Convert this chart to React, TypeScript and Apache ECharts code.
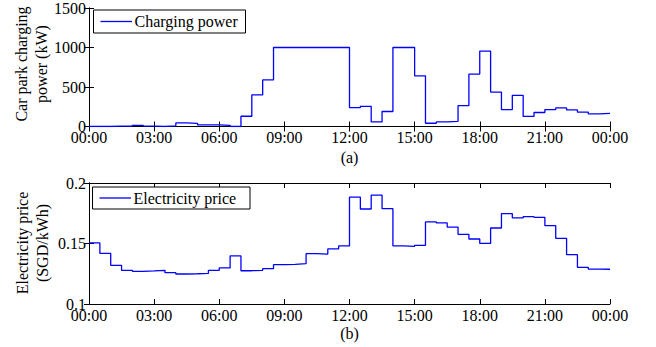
import React, { useEffect, useRef } from "react";
import * as echarts from "echarts";

const powerValues = [
  0, 0, 5, 5, 15, 5, 0, 8, 45, 40, 20, 20, 15, 0, 130, 400, 590,
  1000, 1000, 1000, 1000, 1000, 1000, 1000,
  240, 255, 58, 190, 1000, 1000, 642, 41, 58, 66, 263, 663, 955, 436, 214, 395,
  128, 177, 214, 235, 210, 181, 160, 165,
];

const priceValues = [
  0.1505, 0.1419, 0.132, 0.1278, 0.127, 0.1273, 0.1278, 0.1259, 0.1248, 0.125,
  0.1253, 0.1278, 0.1298, 0.1397, 0.1275, 0.1278, 0.1292, 0.1325, 0.1328, 0.1333,
  0.1416, 0.1413, 0.1455, 0.148,
  0.1884, 0.1785, 0.19, 0.1788, 0.148, 0.1477, 0.1485, 0.1678, 0.167, 0.1636,
  0.1576, 0.1537, 0.1501, 0.1628, 0.1747, 0.1711, 0.1722, 0.1716, 0.1647, 0.1543,
  0.1408, 0.1303, 0.1289, 0.1287,
];

const stepHours = 0.5;
const seriesNames = ["Charging power", "Electricity price"];

const FONT = "Liberation Serif";
const BLUE = "#0000ff";

function toSteps(vals: number[]) {
  const pts: [number, number][] = vals.map((v, i) => [i * stepHours, v]);
  pts.push([vals.length * stepHours, vals[vals.length - 1]]);
  return pts;
}

const fmtHour = (v: number) => String(Math.round(v) % 24).padStart(2, "0") + ":00";

function legendBox(name: string, x: number, y: number, w: number, h: number) {
  const cy = y + h / 2;
  return {
    type: "group",
    z: 100,
    children: [
      {
        type: "rect",
        z: 100,
        shape: { x, y, width: w, height: h },
        style: { fill: "#fff", stroke: "#000", lineWidth: 1 },
      },
      {
        type: "line",
        z: 101,
        shape: { x1: x + 7, y1: cy, x2: x + 38.5, y2: cy },
        style: { stroke: BLUE, lineWidth: 1.3 },
      },
      {
        type: "text",
        z: 101,
        x: x + 41,
        y: cy,
        style: {
          text: name,
          font: `16px "${FONT}"`,
          fill: "#000",
          align: "left",
          verticalAlign: "middle",
        },
      },
    ],
  };
}

export default function App() {
  const ref = useRef<HTMLDivElement>(null);
  useEffect(() => {
    if (!ref.current) return;
    const chart = echarts.init(ref.current, undefined, { renderer: "svg" });
    const axisLine = { show: true, lineStyle: { color: "#000", width: 1 } };
    const tick = { show: true, inside: true, length: 5, lineStyle: { color: "#000" } };
    const label = { color: "#000", fontFamily: FONT, fontSize: 16 };
    const xBase = (gridIndex: number, position: string, labels: boolean) => ({
      type: "value",
      gridIndex,
      position,
      min: 0,
      max: 24,
      interval: 3,
      axisLine,
      axisTick: tick,
      splitLine: { show: false },
      axisLabel: labels
        ? { ...label, margin: 3, formatter: fmtHour, showMinLabel: true, showMaxLabel: true }
        : { show: false },
    });
    const yBase = (gridIndex: number, position: string, labels: boolean, min: number, max: number, interval: number) => ({
      type: "value",
      gridIndex,
      position,
      min,
      max,
      interval,
      axisLine,
      axisTick: tick,
      splitLine: { show: false },
      axisLabel: labels
        ? { ...label, margin: 3, formatter: (v: number) => String(Math.round(v * 1000) / 1000) }
        : { show: false },
    });
    chart.setOption({
      animation: false,
      backgroundColor: "#fff",
      grid: [
        { left: 89, top: 5, width: 521, height: 121.5 },
        { left: 89, top: 183, width: 521, height: 121 },
      ],
      xAxis: [
        xBase(0, "bottom", true),
        xBase(0, "top", false),
        xBase(1, "bottom", true),
        xBase(1, "top", false),
      ],
      yAxis: [
        yBase(0, "left", true, 0, 1500, 500),
        yBase(0, "right", false, 0, 1500, 500),
        yBase(1, "left", true, 0.1, 0.2, 0.05),
        yBase(1, "right", false, 0.1, 0.2, 0.05),
      ],
      series: [
        {
          name: seriesNames[0],
          type: "line",
          step: "end",
          xAxisIndex: 0,
          yAxisIndex: 0,
          data: toSteps(powerValues),
          symbol: "none",
          lineStyle: { color: BLUE, width: 1.3 },
          itemStyle: { color: BLUE },
        },
        {
          name: seriesNames[1],
          type: "line",
          step: "end",
          xAxisIndex: 2,
          yAxisIndex: 2,
          data: toSteps(priceValues),
          symbol: "none",
          lineStyle: { color: BLUE, width: 1.3 },
          itemStyle: { color: BLUE },
        },
      ],
      graphic: [
        legendBox(seriesNames[0], 93.5, 10, 152, 23),
        legendBox(seriesNames[1], 92.5, 187, 157.5, 22),
        {
          type: "text",
          x: 31,
          y: 64,
          rotation: Math.PI / 2,
          style: {
            text: "Car park charging\npower (kW)",
            font: `16px "${FONT}"`,
            fill: "#000",
            align: "center",
            verticalAlign: "middle",
            lineHeight: 20,
          },
        },
        {
          type: "text",
          x: 32,
          y: 243,
          rotation: Math.PI / 2,
          style: {
            text: "Electricity price\n(SGD/kWh)",
            font: `16px "${FONT}"`,
            fill: "#000",
            align: "center",
            verticalAlign: "middle",
            lineHeight: 20,
          },
        },
        {
          type: "text",
          x: 349.5,
          y: 157,
          style: { text: "(a)", font: `16px "${FONT}"`, fill: "#000", align: "center", verticalAlign: "middle" },
        },
        {
          type: "text",
          x: 349.5,
          y: 333,
          style: { text: "(b)", font: `16px "${FONT}"`, fill: "#000", align: "center", verticalAlign: "middle" },
        },
      ],
    });
    return () => chart.dispose();
  }, []);
  return (
    <div
      ref={ref}
      style={{ position: "fixed", left: 0, top: 0, width: 656, height: 347, background: "#fff" }}
    />
  );
}
